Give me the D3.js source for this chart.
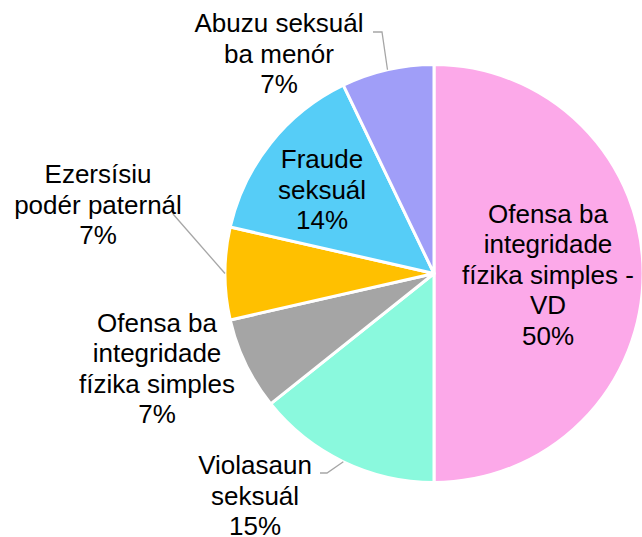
<!DOCTYPE html>
<html>
<head>
<meta charset="utf-8">
<script src="https://cdn.jsdelivr.net/npm/d3@7"></script>
<style>
body { margin: 0; background: #fff; }
text { font-family: "Liberation Sans", Arial, sans-serif; font-size: 26px; fill: #000; }
</style>
</head>
<body>
<svg class="chart"></svg>
<script>
// slice names, split in lines the way they are shown
var categories = [
  ["Ofensa ba", "integridade", "fízika simples -", "VD"],
  ["Violasaun", "seksuál"],
  ["Ofensa ba", "integridade", "fízika simples"],
  ["Ezersísiu", "podér paternál"],
  ["Fraude", "seksuál"],
  ["Abuzu seksuál", "ba menór"]
];
var cases = [7, 2, 1, 1, 2, 1];
var percentLabels = ["50%", "15%", "7%", "7%", "14%", "7%"];
var colors = ["#fca9e9", "#8af9dd", "#a5a5a5", "#ffc000", "#56cdf7", "#a09ef8"];

var width = 642, height = 537,
    cx = 434, cy = 273.5, radius = 209,
    lineHeight = 30.5;

// label block centres and leader starts, relative to the pie centre
var labelLayout = [
  {x: 114, y: 1},
  {x: -179, y: 222, leader: [[-114, 199.5], [-107, 199.5]]},
  {x: -277, y: 94.7},
  {x: -336, y: -69.3, leader: [[-261, -59.5], [-261, -59.5]]},
  {x: -112, y: -84},
  {x: -155, y: -220, leader: [[-61, -241.5], [-52, -241.5]]}
];

var data = cases.map(function(v, i) {
  return {value: v, lines: categories[i].concat([percentLabels[i]]), color: colors[i], layout: labelLayout[i]};
});

var pie = d3.pie().sort(null).value(function(d) { return d.value; });
var arc = d3.arc().innerRadius(0).outerRadius(radius);
var edge = d3.arc().innerRadius(radius).outerRadius(radius);

var chart = d3.select(".chart")
    .attr("width", width)
    .attr("height", height)
  .append("g")
    .attr("transform", "translate(" + cx + "," + cy + ")");

var arcs = pie(data);

chart.selectAll(".slice")
    .data(arcs)
  .enter().append("path")
    .attr("class", "slice")
    .attr("d", arc)
    .attr("fill", function(d) { return d.data.color; })
    .attr("stroke", "#fff")
    .attr("stroke-width", 3)
    .attr("stroke-linejoin", "round");

// leader lines from label to the edge of the slice
chart.selectAll(".leader")
    .data(arcs.filter(function(d) { return d.data.layout.leader; }))
  .enter().append("polyline")
    .attr("class", "leader")
    .attr("fill", "none")
    .attr("stroke", "#a6a6a6")
    .attr("stroke-width", 1.3)
    .attr("points", function(d) {
      var pts = d.data.layout.leader.concat([edge.centroid(d)]);
      return pts.map(function(p) { return p.join(","); }).join(" ");
    });

var label = chart.selectAll(".label")
    .data(arcs)
  .enter().append("text")
    .attr("class", "label")
    .attr("text-anchor", "middle");

label.each(function(d) {
  var lay = d.data.layout, n = d.data.lines.length;
  d3.select(this).selectAll("tspan")
      .data(d.data.lines)
    .enter().append("tspan")
      .attr("x", lay.x)
      .attr("y", function(t, i) { return lay.y - (n - 1) * lineHeight / 2 + i * lineHeight + 9.3; })
      .text(function(t) { return t; });
});
</script>
</body>
</html>
